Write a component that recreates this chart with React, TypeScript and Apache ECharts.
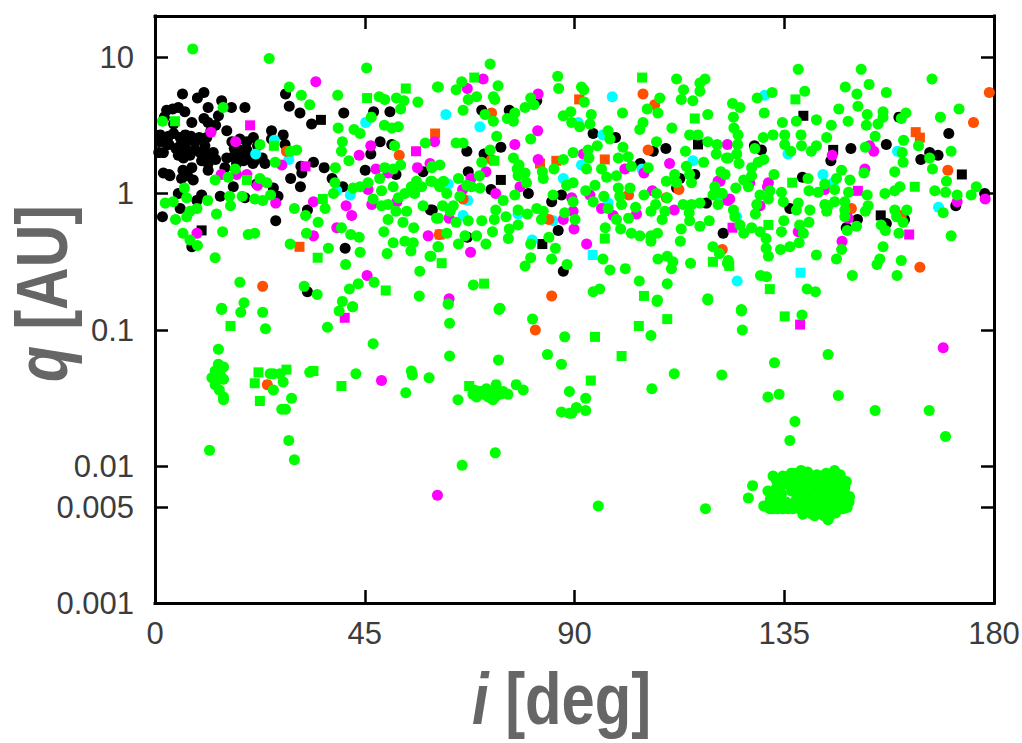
import React, { useEffect, useRef } from "react";
import * as echarts from "echarts";

// Each row: [i in degrees, log10(q in AU)].
type Row = [number, number];

const xTickValues = [0, 45, 90, 135, 180];
const yTickValues = [0.001, 0.005, 0.01, 0.1, 1, 10];
const yTickLabels = ["0.001", "0.005", "0.01", "0.1", "1", "10"];

const blackCircles: Row[] = [[5.9,.73],[9.1,.7],[10.5,.74],[14.3,.68],[16.4,.63],[19.3,.63],[11.4,.63],[2.5,.61],[5,.63],[6.4,.6],[7.9,.52],[11.4,.52],[13.6,.57],[4,.51],[15.4,.46],[1.1,.43],[2.9,.42],[5.4,.41],[6.8,.38],[8.6,.38],[11.1,.41],[10.7,.35],[5.4,.35],[6.8,.32],[8.6,.32],[6.1,.26],[1.8,.3],[11.4,.29],[11.4,.22],[15.4,.26],[16.8,.27],[18.2,.4],[19.7,.38],[21.1,.41],[18.2,.32],[19.7,.32],[18.6,.26],[21.4,.24],[23.6,.22],[25,.46],[25,.4],[27.5,.43],[27.9,.36],[1.8,.15],[3.2,.13],[5.7,.11],[7.9,.19],[8.2,.1],[11.4,.17],[15,.19],[16.8,.05],[21.8,.07],[25.4,.04],[26.4,-.02],[10,-.01],[9,-.05],[14,-.02],[19.3,-.03],[5.4,-.11],[5,0],[1.6,-.17],[7.9,-.39],[25.9,-.2],[28,.73],[28.8,.64],[31.1,.59],[33.6,.51],[40.5,.59],[46.9,.6],[50.4,.6],[34,.23],[36.3,.19],[31.3,.2],[31.5,.15],[29.1,.11],[31.2,.05],[38,.11],[40.3,.05],[45.1,.17],[48.3,.38],[46.3,.29],[50.8,.36],[51.7,.14],[57.5,.16],[59.1,-.12],[32.7,-.12],[40.8,-.4],[32.7,-.72],[55.4,.04],[70.1,.61],[76,.61],[66.9,.31],[70.6,.29],[74.2,.34],[67.2,.16],[72.1,.03],[80.1,0],[59.5,-.12],[67,-.32],[86.5,-.27],[87.6,-.57],[94,.44],[98.8,.41],[104.1,.22],[109.6,.33],[106.9,.31],[115.8,.14],[112.6,.11],[111.9,.04],[118.3,-.07],[121.9,-.29],[87.2,-.01],[85.1,-.06],[81.9,.68],[159.6,.56],[170.3,.44],[128.6,.35],[130.1,.32],[145,.24],[149.3,.33],[156.9,.36],[166.2,.3],[168,.28],[164.3,.25],[138.9,.12],[178,0],[171.8,-.09],[150.7,-.19],[148.3,-.25],[156.9,-.22],[160.8,-.19],[136.2,-.11],
[3,.36],[4.5,.33],[7.7,.42],[9.5,.41],[9.7,.3],[7.5,.28],[5,.28],[10,.24],[12.5,.3],[13,.25],[6.5,.43],[4,.44],[2,.38],[.8,.3],[3,.14],[6,.17],[7,.13],[17,.33],[16.5,.38],[17.5,.22],[20.5,.28],[21,.22],[23,.26],[22,.35],[19,.24],[13,.5],[12,.46],[10.5,.55],[2,.56],[3.8,.62],[1,.38]];
const blackSquares: Row[] = [[10,-.27],[35.6,.54],[74.2,.1],[83.1,-.37],[116.5,.36],[139.1,.57],[145.5,.32],[173.1,.14],[155.7,-.16]];

const cyanCircles: Row[] = [[21.6,.29],[25.6,.39],[28.7,.25],[39,.02],[41.9,-.01],[45.2,.52],[62.4,.58],[69.7,.49],[98.1,.71],[90.8,.52],[96.1,.43],[91.5,.21],[87.6,.11],[62.9,.07],[67.1,-.05],[66.1,-.16],[77.9,-.15],[85.4,-.2],[80.9,-.34],[104.5,.18],[115.4,.24],[121.1,-.03],[97.2,-.07],[130.8,.72],[135.8,.29],[143.3,.14],[145.5,.08],[159.3,.31],[168.1,-.1],[124.9,-.64],[124.8,-.17],[121.6,-.05]];
const cyanSquares: Row[] = [[93.9,-.45],[138.5,-.58]];

const orangeCircles: Row[] = [[23.1,-.68],[52.4,.28],[61,-.3],[28.2,.31],[72.2,.59],[72.2,.25],[104.7,.73],[107.2,.65],[105.8,.32],[112.4,.03],[109.7,-.03],[101.6,-.01],[84.5,-.19],[85.1,-.75],[121.7,-.41],[66.1,-.04],[179,.74],[175.6,.52],[170.1,.17],[149.4,-.11],[160.1,-.16],[164.1,-.54],[121.2,.1],[24.1,-1.4],[81.6,-1]];
const orangeSquares: Row[] = [[31,-.39],[60.1,.44],[91,.69],[96.5,.25],[86.1,.24],[82.6,.22],[61.1,-.3],[163.2,.45],[164.1,.41]];

const magentaCircles: Row[] = [[34.5,.82],[12,.45],[17.3,.38],[14.2,.14],[17.5,.14],[19.7,.14],[22,.06],[27.2,.21],[25.9,-.07],[34,-.06],[41,-.09],[42.2,-.16],[39,-.25],[34,-.31],[9,-.29],[46.3,.35],[43.8,.28],[47.4,.18],[45.7,.03],[46.5,-.08],[51.9,-.06],[50,.15],[60,.38],[59,.22],[56.3,.19],[58.6,-.31],[45.5,-.6],[70.4,.84],[67,.77],[82.2,.73],[82.1,.46],[77.2,.36],[71,.16],[67.8,.11],[66,.03],[73.1,0],[78.3,.05],[63.1,-.18],[67.7,-.43],[63.1,-.77],[89.9,-.26],[92.6,-.37],[87.6,-.19],[89.7,-.13],[89.4,-.03],[93.3,-.01],[95.8,-.11],[98.3,-.16],[103.3,-.15],[100.8,.18],[104.9,.15],[106.7,.02],[110.4,.22],[111.4,-.12],[120.8,.09],[122.8,.36],[122.9,-.05],[91.9,.29],[82.2,.25],[145.3,.28],[154.2,.31],[153.3,.35],[152.3,.18],[131.6,.08],[131.4,.05],[127.6,.08],[121.2,.09],[123.3,-.04],[129.8,-.09],[143.7,.03],[172.1,-.06],[178.1,-.04],[138,-.28],[147.4,-.35],[148.7,-.18],[48.6,-1.37],[60.6,-2.21],[169.1,-1.13]];
const magentaSquares: Row[] = [[20.4,.5],[32.3,.2],[56,.31],[150.8,.02],[123.9,-.25],[161.8,-.3],[40.7,-.91],[138.4,-.96]];

const greenCircles: Row[] = [[8.1,1.06],[24.5,.99],[45.4,.92],[28.8,.78],[31.4,.72],[33.2,.65],[39.2,.72],[60.6,.78],[48.1,.71],[49.3,.69],[51.8,.7],[53.4,.68],[52.7,.62],[56.4,.67],[14.6,.63],[1.6,.53],[46.4,.56],[39.3,.48],[42.7,.47],[44,.44],[49.2,.5],[50.8,.48],[52.2,.49],[40.2,.38],[40,.31],[41.6,.24],[38.7,.19],[22.5,.36],[29,.31],[30.4,.32],[25.8,.23],[51.4,.35],[58,.37],[49.3,.19],[51.1,.18],[52.7,.21],[59.5,.2],[12.9,.1],[17.2,.18],[15.7,.12],[22.5,.11],[24,.08],[6.3,.04],[6.8,-.03],[2.2,-.07],[3.9,-.06],[11.3,-.05],[16,-.02],[16.2,-.09],[18.7,-.02],[21.4,-.04],[23.1,-.05],[24.8,-.01],[4.4,-.19],[7.5,-.13],[9,-.11],[6.8,-.17],[13.2,-.15],[6,-.29],[7.5,-.34],[9.1,-.38],[14.5,-.28],[20,-.3],[21.4,-.29],[12.9,-.47],[29.9,-.11],[32.3,-.16],[36.5,-.11],[35,-.21],[38.6,.08],[38.3,0],[40,-.25],[32.5,-.29],[42,-.3],[43.8,-.32],[29,-.37],[37.2,-.4],[44,-.43],[40.9,-.52],[49.1,-.28],[50,-.19],[51.7,-.13],[54,-.13],[53.2,-.21],[55.5,-.25],[57.5,-.09],[60.4,-.18],[51.1,-.36],[49.8,-.44],[53.6,-.35],[55.4,-.36],[54.9,-.42],[60.7,-.39],[59,-.46],[56.8,-.57],[18.2,-.65],[19.1,-.8],[32,-.68],[34.8,-.74],[47,-.65],[43.6,-.66],[41.7,-.7],[56.7,-.75],[40.2,-.79],[42.4,-.83],[14.3,-.84],[44,.05],[45.7,.08],[48.2,.11],[51.1,.05],[42.5,.04],[48.6,.02],[46.8,-.04],[48.6,-.09],[50,-.08],[52.2,-.03],[53.6,0],[55,.05],[56.1,.09],[57.2,.05],[55.7,0],[59.2,.09],[60.8,.07],
[71.9,.95],[65.8,.82],[64.6,.76],[60.8,.78],[73.6,.79],[67.2,.69],[69,.71],[72.6,.71],[72.9,.69],[66.1,.61],[70.8,.58],[72.6,.53],[75.6,.55],[77.2,.59],[76.9,.53],[79.4,.63],[80.6,.7],[81.3,.65],[86.4,.86],[86.6,.77],[91.5,.78],[92,.76],[92.1,.67],[89.2,.6],[87.6,.57],[93.6,.58],[89.4,.52],[91.1,.49],[93.3,.51],[111.9,.84],[113.4,.76],[118,.84],[116.9,.81],[116.9,.75],[112.9,.69],[115.4,.68],[108.3,.7],[105.6,.62],[107.9,.59],[100.3,.59],[104.7,.52],[104,.47],[118.6,.58],[110.9,.48],[97.2,.46],[97.6,.4],[73.3,.42],[80.6,.4],[64.6,.37],[66.1,.37],[71.9,.32],[70.1,.23],[76.9,.26],[78.1,.21],[77.7,.18],[79.4,.15],[77.9,.13],[83.1,.16],[83.3,.11],[79.7,.08],[69.6,.13],[65.1,.11],[61.1,.21],[59.4,.19],[59.4,.09],[61.9,.09],[61.1,.05],[62.6,0],[66.9,.06],[69.7,.04],[67.9,.05],[65.4,-.02],[61.7,-.09],[64,-.09],[63.3,-.13],[60.8,-.18],[64.6,-.21],[67.2,-.2],[70.1,-.2],[62.6,-.29],[66.5,-.31],[65.1,-.37],[69,-.31],[71,-.37],[60.8,-.39],[59.2,-.46],[68.3,-.67],[62.9,-.81],[74,-.84],
[87.6,.25],[89.7,.3],[85.6,.18],[92.6,.18],[92.9,.32],[93.1,.26],[94.9,.35],[100.4,.34],[99.4,.26],[101.5,.27],[102.2,.2],[95.8,.18],[96.9,.12],[99,.13],[94.4,.06],[92.4,.02],[89.7,.08],[88.3,.06],[101.9,.04],[99.4,.04],[99.7,-.02],[96.3,-.02],[94,-.06],[97.2,-.11],[100.1,-.08],[104.9,-.01],[103.1,-.1],[106.4,-.13],[107.6,0],[107.4,-.08],[109.9,-.03],[109.4,-.13],[109.7,.09],[111.5,.14],[111.9,.08],[114,.2],[114.7,.14],[115.1,.08],[105.8,.19],[107.6,.38],[113.8,.31],[114.7,.43],[116.5,.43],[118.6,.38],[117.7,.23],[120.6,.36],[120.4,.29],[121.4,.16],[122.6,.26],[120.1,.05],[119.7,-.01],[121.5,0],[120.8,-.08],[113.3,-.08],[115.1,-.08],[116.9,-.07],[114.6,-.14],[114.7,-.2],[116.9,-.24],[118.9,-.2],[112.9,-.26],[112.7,-.35],[108.8,-.19],[107.8,-.29],[106.4,-.31],[106.4,-.35],[104,-.31],[102.2,-.29],[101.6,-.18],[99.9,-.26],[99,-.19],[96.6,-.25],[90.1,-.19],[87.9,-.14],[89.7,-.06],[85.4,-.01],[83.3,-.13],[81.9,-.11],[79.9,-.15],[77.9,-.12],[77.2,-.01],[74.7,-.05],[73.1,-.12],[72.8,-.19],[75.3,-.17],[72.4,-.28],[76,-.26],[75.8,-.33],[77.9,-.23],[84.5,-.32],[80.6,-.37],[85.9,-.4],[80.6,-.47],[79.4,-.53],[85.1,-.48],[88.4,-.52],[82.9,-.19],[96.1,-.48],[97.6,-.56],[100.9,-.55],[103.9,-.64],[107.8,-.78],[109.9,-.66],[107.9,-.48],[109.9,-.46],[111.1,-.5],[110.8,-.55],[114.9,-.51],[119.7,-.39],[121.1,-.44],[122.8,-.51],[94,-.72],[95.4,-.7],[118.6,-.77],
[138,.91],[151.5,.91],[166.7,.84],[153.2,.8],[148.1,.78],[150.6,.73],[156.9,.74],[132.4,.74],[129.2,.7],[139.4,.75],[123.9,.66],[125.5,.63],[130.7,.59],[124.1,.56],[146.7,.62],[150.8,.64],[172.5,.62],[168.5,.56],[152.8,.58],[156.2,.6],[161.1,.59],[160.1,.55],[141.9,.54],[137.6,.53],[134.6,.52],[145.1,.5],[148.7,.53],[152.6,.5],[155.1,.51],[156.2,.56],[124.2,.48],[125.1,.43],[130.5,.41],[132.6,.43],[135.1,.43],[138.6,.43],[144.1,.41],[154.5,.42],[160.6,.39],[125,.36],[128.7,.33],[135.1,.36],[136.4,.31],[138.7,.35],[141.9,.35],[140.8,.31],[152.4,.34],[163.8,.35],[160.3,.3],[170.8,.31],[166.2,.26],[160.5,.23],[124.8,.29],[123,.26],[125.3,.22],[130.6,.25],[129.4,.23],[128,.19],[166.8,.18],[158.7,.16],[152.1,.15],[147.3,.17],[132.8,.14],[128,.13],[122.3,.14],[126.3,.1],[140.1,.11],[146.2,.11],[149.1,.1],[169.8,.09],[176.2,.05],[159.8,.05],[158.7,.02],[156.6,0],[167.3,.02],[169.6,.01],[172.1,-.01],[175.1,-.01],[152.8,-.01],[148.8,.01],[124.6,.04],[127.3,.05],[121.7,0],[131.9,.02],[134.4,.01],[140.3,.02],[142.3,.01],[143.7,.07],[145.8,.03],[129.8,-.01],[131.6,-.04],[129.1,-.08],[134.8,-.06],[138,-.07],[124.1,-.12],[124.4,-.17],[128.8,-.15],[137.6,-.12],[140.5,-.12],[143.7,-.08],[145.8,-.06],[148,-.06],[153,-.09],[152.4,-.13],[148,-.17],[158.7,-.12],[159.1,-.17],[161.3,-.12],[169.1,-.14],[134.9,-.2],[140.3,-.21],[138.3,-.23],[125.5,-.23],[128,-.25],[129.8,-.28],[126.3,-.29],[131.1,-.33],[134.4,-.28],[139.1,-.29],[148.5,-.27],[150.5,-.24],[155.8,-.23],[156.7,-.27],[160.5,-.21],[159.6,-.29],[170.8,-.31],[131.1,-.4],[131.6,-.46],[134.2,-.41],[136.2,-.39],[138.2,-.36],[141.9,-.45],[147.3,-.41],[146.2,-.48],[156.2,-.39],[155.5,-.48],[154.9,-.52],[160.1,-.49],[159.2,-.6],[149.6,-.6],[123,-.49],[129.9,-.6],[131.2,-.61],[139.9,-.7],[141.7,-.72],[125.8,-.85],[144.4,-.09],[144.1,-.13],[148,-.12],
[14.3,-.85],[18.4,-.87],[23.1,-.87],[23.7,-.99],[13.6,-1.14],[13.6,-1.25],[14.7,-1.27],[12.9,-1.3],[14,-1.33],[12.2,-1.35],[14.7,-1.36],[12.9,-1.4],[13.8,-1.44],[14.7,-1.49],[14.7,-1.51],[25.4,-1.32],[24.7,-1.32],[26.8,-1.32],[27.5,-1.38],[25.4,-1.44],[29.3,-1.5],[27.2,-1.58],[28,-1.58],[28.7,-1.81],[29.9,-1.95],[11.7,-1.88],[33.2,-1.31],[43.1,-1.32],[37,-.98],[39.5,-.86],[42.4,-.83],[46.8,-1.1],[55,-1.3],[55.2,-1.33],[58.8,-1.35],[53.8,-1.46],[63.2,-.95],[62.9,-.81],[63.2,-1.19],[73.8,-.85],[73.7,-1.22],[81,-.92],[87.9,-1.05],[84.2,-1.18],[87.2,-1.25],[88.9,-1.45],[87.2,-1.6],[88.9,-1.61],[90.4,-1.57],[65,-1.51],[77.5,-1.4],[79,-1.44],[68.2,-1.47],[69.7,-1.45],[69,-1.49],[71.1,-1.43],[71.4,-1.47],[72.5,-1.51],[73.2,-1.4],[73.6,-1.46],[72.9,-1.45],[75.7,-1.47],[74.7,-1.45],[70.4,-1.47],[72.1,-1.47],[65.9,-1.99],[73,-1.9],[70,-1.45],[71,-1.46],[72,-1.45],[72.5,-1.48],[71.5,-1.49],[73,-1.49],[74,-1.47],[69.5,-1.47],[68.5,-1.44],
[125.8,-.86],[138.8,-.89],[126,-1],[106.4,-1.04],[107.7,-.79],[118.6,-.78],[144.4,-1.18],[132.9,-1.24],[111.4,-1.32],[121.6,-1.33],[106.6,-1.43],[133.9,-1.47],[131.5,-1.49],[146.6,-1.48],[154.5,-1.59],[166.1,-1.59],[169.6,-1.78],[137.3,-1.67],[136.2,-1.81],[95.1,-2.29],[118.1,-2.31],[92.4,-1.5],[90.4,-1.57],[92.4,-1.59],[89.4,-1.61],
[128.2,-2.14],[127.3,-2.23],[130.6,-2.29],[132.6,-2.07],[131.5,-2.18],[132.6,-2.31],[134.7,-2.07],[136.5,-2.05],[138.6,-2.03],[139.7,-2.06],[134,-2.24],[135.8,-2.31],[138.3,-2.31],[137.6,-2.24],[133.3,-2.16],[139,-2.15],[140.4,-2.22],[141.5,-2.36],[144.4,-2.39],[142.2,-2.29],[144,-2.32],[146.1,-2.31],[147.6,-2.31],[148.9,-2.26],[147.2,-2.22],[145.4,-2.24],[143.3,-2.22],[141.9,-2.15],[144,-2.05],[145.8,-2.03],[148.3,-2.11],[146.9,-2.12],[144.7,-2.12],[142.6,-2.1],[140.8,-2.07],[137.6,-2.09],[136.1,-2.11],[139,-2.24],[143.3,-2.32],[141.1,-2.27],[146.1,-2.2],[147.9,-2.18],[144.7,-2.27],[135.4,-2.26],[136.9,-2.31],[133.6,-2.31],[131.9,-2.31],[134.7,-2.31],[148.6,-2.22],[143.3,-2.15],[140.4,-2.15],[134.7,-2.12],[139,-2.35],
[137.5,-2.15],[138,-2.2],[137,-2.05],[138,-2.09],[139,-2.07],[140,-2.1],[141,-2.12],[142,-2.06],[143,-2.07],[144.5,-2.08],[145.5,-2.07],[147,-2.06],[147.5,-2.1],[148,-2.15],[146,-2.15],[145,-2.17],[144,-2.17],[142.7,-2.18],[141,-2.18],[139.5,-2.18],[138.7,-2.27],[140,-2.28],[141,-2.31],[142.5,-2.24],[143,-2.27],[145.5,-2.28],[147,-2.27],[148.5,-2.3],[149,-2.22],[146,-2.25],[144.5,-2.21],[137,-2.27],[135,-2.29],[133,-2.28],[132,-2.24],[133,-2.2],[133.3,-2.1],[135,-2.1],[138.5,-2.12],[141,-2.35],[142.8,-2.34],[144.8,-2.36],[143.5,-2.36],[146,-2.34],[139.5,-2.32],[136,-2.07],[134,-2.13],[140,-2.04],[143,-2.13],[147,-2.17],[134.4,-2.2],[136.6,-2.18],[135.5,-2.13]];
const greenSquares: Row[] = [[45.5,.7],[53.8,.77],[4.3,.53],[25.5,.35],[19.7,.1],[36,-.04],[34.9,-.47],[49.5,-.71],[68.5,.85],[104.5,.85],[115.8,.55],[72.8,.24],[61.5,-.51],[70.6,-.66],[96.5,-.33],[104.9,-.75],[119.7,-.5],[137.4,.69],[163,.05],[136.7,.08],[131.6,-.23],[123.2,-.53],[131.9,-.7],[16.2,-.97],[22.2,-1.31],[28.2,-1.29],[21.4,-1.39],[22.5,-1.52],[34,-1.3],[40,-1.41],[67.4,-1.41],[135.1,-.9],[109.9,-.92],[103.8,-.97],[94.4,-1.05],[100.1,-1.19],[93.5,-1.37]];

const BLACK = "#000000";
const CYAN = "#00ffff";
const ORANGE = "#ff4f00";
const MAGENTA = "#ff00ff";
const GREEN = "#00ff00";
const LABEL = "#3c3c3c";
const TITLE = "#666666";
const FONT = '"Liberation Sans", Arial, sans-serif';

const toPoint = (r: Row) => [r[0], Math.pow(10, r[1])];

const marks = (name: string, rows: Row[], color: string, symbol: string, z: number) => ({
  name,
  type: "scatter",
  data: rows.map(toPoint),
  symbol,
  symbolSize: symbol === "rect" ? 10 : 11,
  itemStyle: { color, opacity: 1 },
  z,
  silent: true,
});

const titleStyle = (text: string) => ({
  text,
  rich: {
    a: { font: `italic bold 72px ${FONT}`, fill: TITLE, lineHeight: 70 },
    b: { font: `bold 72px ${FONT}`, fill: TITLE, lineHeight: 70 },
  },
  font: `bold 72px ${FONT}`,
  lineHeight: 70,
  fill: TITLE,
});

export default function App() {
  const ref = useRef<HTMLDivElement>(null);
  useEffect(() => {
    const chart = echarts.init(ref.current!, null, { renderer: "svg" });
    const line = { show: true, onZero: false, lineStyle: { color: "#000", width: 3, cap: "square" } };
    const tick = { show: true, inside: true, length: 13, lineStyle: { color: "#000", width: 2.5 } };
    const yLabel = (v: number) => {
      const k = yTickValues.findIndex((t) => Math.abs(t - v) / t < 1e-6);
      return k >= 0 ? yTickLabels[k] : "";
    };
    chart.setOption({
      animation: false,
      backgroundColor: "#ffffff",
      grid: { left: 155, right: 28, top: 16, bottom: 140, containLabel: false, outerBoundsMode: "none" },
      xAxis: [
        {
          type: "value", min: 0, max: 180, interval: 45, position: "bottom",
          axisLine: line, splitLine: { show: false }, axisTick: tick,
          axisLabel: { margin: 15, fontSize: 31, color: LABEL, fontFamily: FONT, customValues: xTickValues, showMinLabel: true, showMaxLabel: true, hideOverlap: false },
        },
        {
          type: "value", min: 0, max: 180, interval: 45, position: "top",
          axisLine: line, splitLine: { show: false }, axisTick: tick,
          axisLabel: { show: false },
        },
      ],
      yAxis: [
        {
          type: "log", logBase: 10, min: 0.001, max: 20, position: "left",
          axisLine: line, splitLine: { show: false }, minorTick: { show: false },
          axisTick: { ...tick, customValues: yTickValues },
          axisLabel: { margin: 21, fontSize: 31, color: LABEL, fontFamily: FONT, customValues: yTickValues, formatter: yLabel, hideOverlap: false, showMinLabel: true, showMaxLabel: true },
        },
        {
          type: "log", logBase: 10, min: 0.001, max: 20, position: "right",
          axisLine: line, splitLine: { show: false }, minorTick: { show: false },
          axisTick: { ...tick, customValues: yTickValues },
          axisLabel: { show: false },
        },
      ],
      graphic: [
        { type: "text", x: 472, y: 664, scaleX: 0.83, z: 10, style: titleStyle("{a|i} {b|[deg]}") },
        { type: "text", x: 7, y: 382, rotation: Math.PI / 2, scaleX: 0.82, z: 10, style: titleStyle("{a|q} {b|[AU]}") },
      ],
      series: [
        marks("black", blackCircles, BLACK, "circle", 1),
        marks("black squares", blackSquares, BLACK, "rect", 1),
        marks("cyan", cyanCircles, CYAN, "circle", 2),
        marks("cyan squares", cyanSquares, CYAN, "rect", 2),
        marks("orange", orangeCircles, ORANGE, "circle", 3),
        marks("orange squares", orangeSquares, ORANGE, "rect", 3),
        marks("magenta", magentaCircles, MAGENTA, "circle", 4),
        marks("magenta squares", magentaSquares, MAGENTA, "rect", 4),
        marks("green", greenCircles, GREEN, "circle", 5),
        marks("green squares", greenSquares, GREEN, "rect", 5),
      ],
    });
    return () => chart.dispose();
  }, []);
  return <div ref={ref} style={{ position: "absolute", left: 0, top: 0, width: 1022, height: 743 }} />;
}
